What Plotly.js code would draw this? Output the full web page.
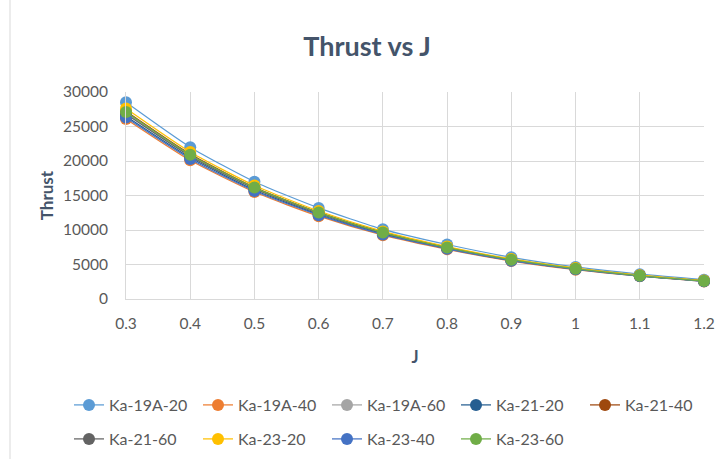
<!DOCTYPE html>
<html><head><meta charset="utf-8">
<script src="https://cdn.plot.ly/plotly-3.0.1.min.js"></script>
<style>html,body{margin:0;padding:0;background:#fff}#chart{width:723px;height:459px}</style>
</head><body><div id="chart"></div>
<script>
const J = [0.3, 0.4, 0.5, 0.6, 0.7, 0.8, 0.9, 1.0, 1.1, 1.2];
const seriesNames = ["Ka-19A-20","Ka-19A-40","Ka-19A-60","Ka-21-20","Ka-21-40","Ka-21-60","Ka-23-20","Ka-23-40","Ka-23-60"];
const ka19A_20 = [28500, 22000, 17000, 13200, 10100, 7900, 6050, 4650, 3600, 2800];
const ka19A_40 = [26100, 20100, 15500, 12000, 9250, 7200, 5500, 4250, 3300, 2550];
const ka19A_60 = [27000, 20800, 16100, 12500, 9600, 7450, 5700, 4400, 3380, 2620];
const ka21_20  = [26500, 20500, 15800, 12250, 9450, 7350, 5600, 4330, 3340, 2590];
const ka21_40  = [27200, 21000, 16200, 12550, 9650, 7500, 5720, 4420, 3400, 2630];
const ka21_60  = [26800, 20700, 16000, 12400, 9550, 7420, 5660, 4380, 3370, 2610];
const ka23_20  = [27600, 21300, 16450, 12750, 9800, 7600, 5800, 4480, 3450, 2670];
const ka23_40  = [26300, 20300, 15650, 12150, 9350, 7280, 5560, 4300, 3320, 2570];
const ka23_60  = [27100, 20900, 16150, 12520, 9630, 7460, 5690, 4380, 3360, 2620];
const yTicks = [0, 5000, 10000, 15000, 20000, 25000, 30000];
const yTickText = ["0","5000","10000","15000","20000","25000","30000"];
const xTicks = [0.3, 0.4, 0.5, 0.6, 0.7, 0.8, 0.9, 1, 1.1, 1.2];
const xTickText = ["0.3","0.4","0.5","0.6","0.7","0.8","0.9","1","1.1","1.2"];

const allSeries = [ka19A_20, ka19A_40, ka19A_60, ka21_20, ka21_40, ka21_60, ka23_20, ka23_40, ka23_60];
const colors = ["#5B9BD5","#ED7D31","#A5A5A5","#255E91","#9E480E","#636363","#FFC000","#4472C4","#70AD47"];

const traces = allSeries.map((ys, i) => ({
  type: "scatter", mode: "lines+markers", name: seriesNames[i],
  x: J, y: ys,
  line: {color: colors[i], width: 1.25, shape: "spline", smoothing: 0.6},
  marker: {color: colors[i], size: 12},
  cliponaxis: false,
  legend: i < 5 ? "legend" : "legend2"
}));

const font = "Lato, 'Open Sans', sans-serif";
const W = 723, L = 126, R = 19;
const pw = W - L - R;
const legendCommon = {
  orientation: "h", xref: "paper", yref: "paper", xanchor: "left", yanchor: "middle",
  entrywidth: 84, entrywidthmode: "pixels", itemwidth: 30,
  font: {family: font, size: 16, color: "#595959"}, bgcolor: "rgba(0,0,0,0)",
  traceorder: "normal", tracegroupgap: 0, itemclick: false
};
const layout = {
  width: 723, height: 459,
  margin: {l: L, r: R, t: 92, b: 160, autoexpand: false},
  paper_bgcolor: "#fff", plot_bgcolor: "#fff",
  font: {family: font, color: "#595959"},
  title: {text: "<b>Thrust vs J</b>", x: 367/723, xref: "container", xanchor: "center", y: 1 - 47/459, yanchor: "middle",
          font: {family: font, size: 27, color: "#44546A"}},
  xaxis: {range: [0.3, 1.2], tickvals: xTicks, ticktext: xTickText, showgrid: true, gridcolor: "#D9D9D9",
          showline: true, linecolor: "#D9D9D9", zeroline: false, ticks: "outside", ticklen: 10, tickcolor: "rgba(0,0,0,0)",
          tickfont: {family: font, size: 15.5, color: "#595959"},
          title: {text: "<b>J</b>", font: {family: font, size: 16.5, color: "#44546A"}, standoff: 20}},
  yaxis: {range: [0, 30000], tickvals: yTicks, ticktext: yTickText, showgrid: true, gridcolor: "#D9D9D9",
          showline: true, linecolor: "#D9D9D9", zeroline: false, ticks: "outside", ticklen: 14, tickcolor: "rgba(0,0,0,0)",
          tickfont: {family: font, size: 15.5, color: "#595959"},
          title: {text: "<b>Thrust</b>", font: {family: font, size: 17, color: "#44546A"}, standoff: 4}},
  legend: Object.assign({}, legendCommon, {x: (69 - L) / pw, y: -(405 - 299) / 207}),
  legend2: Object.assign({}, legendCommon, {x: (69 - L) / pw, y: -(439 - 299) / 207}),
  shapes: [{type: "line", xref: "paper", yref: "paper", x0: (10 - L) / pw, x1: (10 - L) / pw, y0: -160/207, y1: 1 + 92/207,
            line: {color: "#D9D9D9", width: 1}}],
  showlegend: true
};
Plotly.newPlot("chart", traces, layout, {staticPlot: true, displayModeBar: false});
</script></body></html>
